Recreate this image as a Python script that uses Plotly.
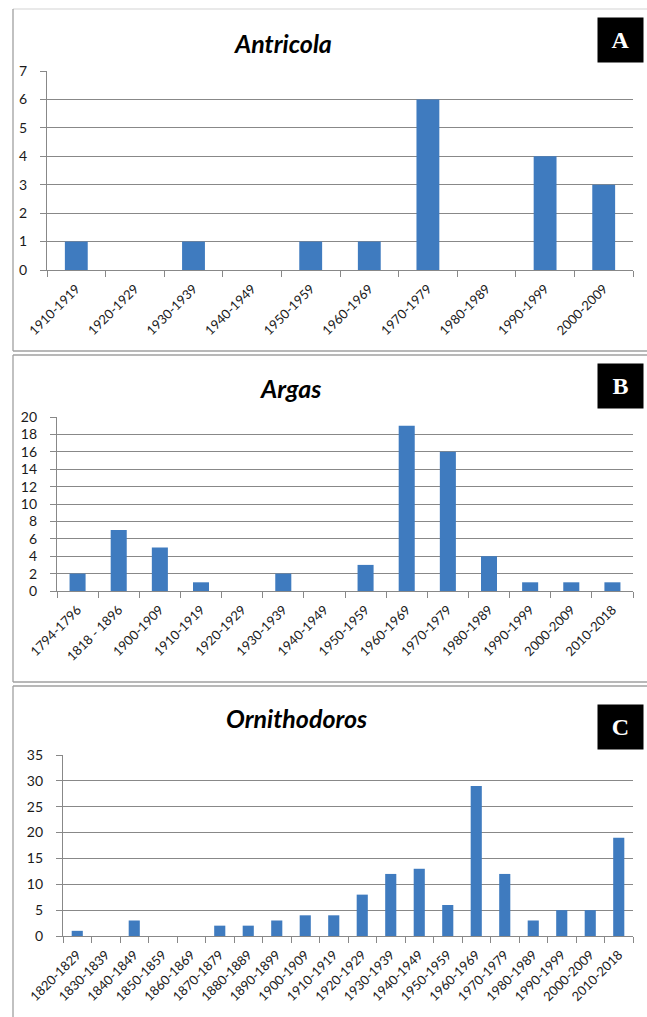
import plotly.graph_objects as go

W, H = 647, 1017

antricola_cats = ["1910-1919", "1920-1929", "1930-1939", "1940-1949", "1950-1959",
                  "1960-1969", "1970-1979", "1980-1989", "1990-1999", "2000-2009"]
antricola_vals = [1, 0, 1, 0, 1, 1, 6, 0, 4, 3]

argas_cats = ["1794-1796", "1818 - 1896", "1900-1909", "1910-1919", "1920-1929",
              "1930-1939", "1940-1949", "1950-1959", "1960-1969", "1970-1979",
              "1980-1989", "1990-1999", "2000-2009", "2010-2018"]
argas_vals = [2, 7, 5, 1, 0, 2, 0, 3, 19, 16, 4, 1, 1, 1]

orni_cats = ["1820-1829", "1830-1839", "1840-1849", "1850-1859", "1860-1869",
             "1870-1879", "1880-1889", "1890-1899", "1900-1909", "1910-1919",
             "1920-1929", "1930-1939", "1940-1949", "1950-1959", "1960-1969",
             "1970-1979", "1980-1989", "1990-1999", "2000-2009", "2010-2018"]
orni_vals = [1, 0, 3, 0, 0, 2, 2, 3, 4, 4, 8, 12, 13, 6, 29, 12, 3, 5, 5, 19]

titles = ["Antricola", "Argas", "Ornithodoros"]
letters = ["A", "B", "C"]
y_max = [7, 20, 35]
y_dtick = [1, 2, 5]


def X(px):
    return px / W


def Y(py):
    return 1 - py / H


BAR = "#3F7BBF"
GRID = "#888888"
FONT = "Lato"

# plot-area pixel boxes (x0, x1, ytop, ybottom)
areas = [(47, 633, 71, 270), (57, 633, 417, 591), (63, 633, 755, 936)]
title_x = [283, 290, 296]
title_y = [43, 388, 718]
box_y = [40, 386, 727]

fig = go.Figure()
data = [(antricola_cats, antricola_vals), (argas_cats, argas_vals), (orni_cats, orni_vals)]

for i, (cats, vals) in enumerate(data):
    n = i + 1
    xa = "x" if n == 1 else f"x{n}"
    ya = "y" if n == 1 else f"y{n}"
    fig.add_trace(go.Bar(x=cats, y=vals, marker=dict(color=BAR, line=dict(width=0)),
                         xaxis=xa, yaxis=ya, showlegend=False, hoverinfo="skip"))
    x0, x1, yt, yb = areas[i]
    xkey = "xaxis" if n == 1 else f"xaxis{n}"
    ykey = "yaxis" if n == 1 else f"yaxis{n}"
    fig.layout[xkey] = dict(domain=[X(x0), X(x1)], anchor=ya, type="category",
                            tickangle=-45, ticks="outside", tickson="boundaries",
                            ticklen=6, tickcolor=GRID, showline=True, linecolor=GRID,
                            linewidth=1.3, showgrid=False, automargin=False,
                            ticklabelstandoff=5,
                            tickfont=dict(family=FONT, size=13, color="#1a1a1a"))
    fig.layout[ykey] = dict(domain=[Y(yb), Y(yt)], anchor=xa, range=[0, y_max[i]],
                            dtick=y_dtick[i], tick0=0, ticks="outside", ticklen=6,
                            tickcolor=GRID, showline=True, linecolor=GRID, linewidth=1.3,
                            showgrid=True, gridcolor=GRID, gridwidth=1.4, zeroline=False,
                            automargin=False, ticklabelstandoff=10,
                            tickfont=dict(family=FONT, size=14, color="#1a1a1a"))
    fig.add_annotation(text=f"<b><i>{titles[i]}</i></b>", xref="paper", yref="paper",
                       x=X(title_x[i]), y=Y(title_y[i]), xanchor="center", yanchor="middle",
                       showarrow=False, font=dict(family=FONT, size=25, color="black"))
    fig.add_annotation(text=f"<b>{letters[i]}</b>", xref="paper", yref="paper",
                       x=X(620.5), y=Y(box_y[i]), xanchor="center", yanchor="middle",
                       showarrow=False, width=45, height=44, bgcolor="black", borderpad=0,
                       font=dict(family="Liberation Serif", size=24, color="white"))

# panel borders: (top, bottom, top-line colour)
panels = [(9, 351, "#E2E2E2"), (355, 682, "#A0A0A0"), (686, 1030, "#A0A0A0")]
BORDER = "#A0A0A0"
for (t, b, tc) in panels:
    fig.add_shape(type="line", xref="paper", yref="paper", x0=X(13), x1=X(660),
                  y0=Y(t), y1=Y(t), line=dict(color=tc, width=1.3))
    fig.add_shape(type="line", xref="paper", yref="paper", x0=X(13), x1=X(660),
                  y0=Y(b), y1=Y(b), line=dict(color=BORDER, width=1.3))
    fig.add_shape(type="line", xref="paper", yref="paper", x0=X(13), x1=X(13),
                  y0=Y(b), y1=Y(t), line=dict(color=BORDER, width=1.3))

fig.update_layout(width=W, height=H, margin=dict(l=0, r=0, t=0, b=0, pad=0, autoexpand=False),
                  plot_bgcolor="white", paper_bgcolor="white", bargap=0.61,
                  font=dict(family=FONT), hovermode=False)

fig.write_html("out.html", config={"displayModeBar": False},
               post_script="document.body.style.margin='0';document.body.style.overflow='hidden';")
